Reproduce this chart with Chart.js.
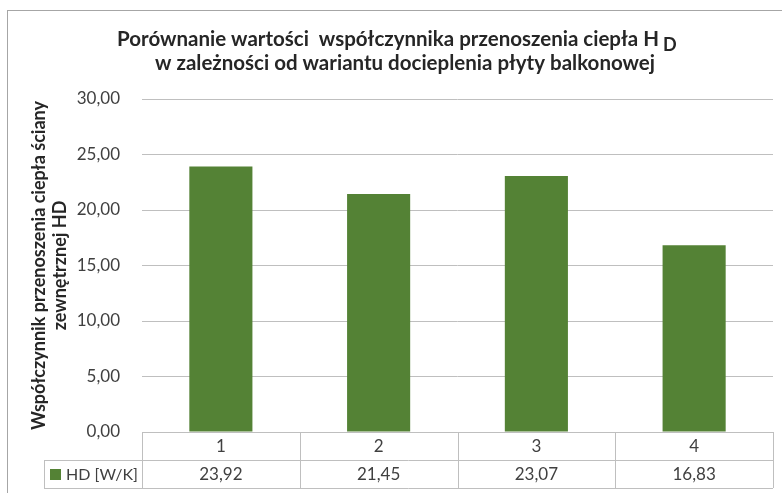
<!DOCTYPE html>
<html>
<head>
<meta charset="utf-8">
<script src="https://cdn.jsdelivr.net/npm/chart.js@4"></script>
<style>
	html, body { margin: 0; padding: 0; background: #fff; }
	#wrap { width: 782px; height: 493px; position: relative; }
</style>
</head>
<body>
<div id="wrap"><canvas id="hdChart" width="782" height="493"></canvas></div>
<script>
// Chart data
const categories = ['1', '2', '3', '4'];
const hdValues = [23.92, 21.45, 23.07, 16.83];
const seriesLabel = 'HD [W/K]';
const yTicks = [0, 5, 10, 15, 20, 25, 30];
const titleLines = ['Porównanie wartości  współczynnika przenoszenia ciepła H', 'w zależności od wariantu docieplenia płyty balkonowej'];
const titleSub = 'D';
const yTitleLines = ['Współczynnik przenoszenia ciepła ściany', 'zewnętrznej HD'];

const barColor = '#548235';
const lineColor = '#bfbfbf';
const textColor = '#404040';
const FONT = 'Lato, "Open Sans", sans-serif';

function fmt(v) {
	return v.toFixed(2).replace('.', ',');
}

// Outer frame and title
const framePlugin = {
	id: 'frame',
	beforeDraw(chart) {
		const ctx = chart.ctx;
		ctx.save();
		ctx.strokeStyle = '#a6a6a6';
		ctx.lineWidth = 1;
		ctx.strokeRect(7.5, 10.5, 900, 600);
		ctx.restore();
	},
	afterDraw(chart) {
		const ctx = chart.ctx;
		ctx.save();
		ctx.fillStyle = '#262626';
		ctx.textBaseline = 'alphabetic';
		ctx.textAlign = 'center';
		ctx.font = 'bold 20.5px ' + FONT;
		ctx.fillText(titleLines[0], 388, 46);
		const w = ctx.measureText(titleLines[0]).width;
		ctx.textAlign = 'left';
		ctx.font = 'bold 18px ' + FONT;
		ctx.fillText(titleSub, 388 + w / 2 + 4, 51);
		ctx.textAlign = 'center';
		ctx.font = 'bold 20.5px ' + FONT;
		ctx.fillText(titleLines[1], 405, 70);
		ctx.restore();
	}
};

// Data table under the plot (Excel style)
const tablePlugin = {
	id: 'dataTable',
	afterDraw(chart) {
		const ctx = chart.ctx;
		const area = chart.chartArea;
		const xs = chart.scales.x;
		const n = categories.length;
		const colW = (area.right - area.left) / n;
		const rowH = 28;
		const top = area.bottom;
		const legendLeft = 44;
		ctx.save();
		ctx.strokeStyle = lineColor;
		ctx.lineWidth = 1;
		ctx.beginPath();
		// horizontal lines
		ctx.moveTo(area.left, top + 0.5);
		ctx.lineTo(area.right, top + 0.5);
		ctx.moveTo(legendLeft, top + rowH + 0.5);
		ctx.lineTo(area.right, top + rowH + 0.5);
		ctx.moveTo(legendLeft, top + 2 * rowH + 0.5);
		ctx.lineTo(area.right, top + 2 * rowH + 0.5);
		// vertical lines
		for (let i = 0; i <= n; i++) {
			const x = Math.round(area.left + i * colW) + 0.5;
			ctx.moveTo(x, top);
			ctx.lineTo(x, top + 2 * rowH);
		}
		ctx.moveTo(legendLeft + 0.5, top + rowH);
		ctx.lineTo(legendLeft + 0.5, top + 2 * rowH);
		ctx.stroke();

		ctx.fillStyle = textColor;
		ctx.font = '17px ' + FONT;
		ctx.textAlign = 'center';
		ctx.textBaseline = 'middle';
		categories.forEach((c, i) => {
			const cx = xs.getPixelForValue(i);
			ctx.fillText(c, cx, top + rowH / 2 + 1);
			ctx.fillText(fmt(hdValues[i]), cx, top + rowH * 1.5 + 1);
		});
		// legend key
		ctx.fillStyle = barColor;
		ctx.fillRect(legendLeft + 6, top + rowH + 9, 11, 11);
		ctx.fillStyle = textColor;
		ctx.font = '16px ' + FONT;
		ctx.textAlign = 'left';
		ctx.fillText(seriesLabel, legendLeft + 22, top + rowH * 1.5 + 1);
		ctx.restore();
	}
};

const hdCtx = document.getElementById('hdChart');
hdCtx.chart = new Chart(hdCtx, {
	type: 'bar',
	data: {
		labels: categories,
		datasets: [{
			label: seriesLabel,
			data: hdValues,
			backgroundColor: barColor,
			categoryPercentage: 1,
			barPercentage: 0.4
		}]
	},
	options: {
		responsive: false,
		animation: false,
		layout: {
			padding: { top: 99, right: 9, bottom: 61, left: 0 }
		},
		plugins: {
			legend: { display: false },
			title: { display: false },
			tooltip: { enabled: false }
		},
		scales: {
			x: {
				display: false
			},
			y: {
				min: 0,
				max: 30,
				afterFit: function(scale) {
					scale.width = 142;
				},
				afterBuildTicks: function(scale) {
					scale.ticks = yTicks.map(v => ({ value: v }));
				},
				border: { display: false },
				grid: {
					color: lineColor,
					drawTicks: false
				},
				ticks: {
					padding: 22,
					color: textColor,
					font: { family: FONT, size: 17 },
					callback: function(v) { return fmt(v); }
				},
				title: {
					display: true,
					text: yTitleLines,
					color: '#262626',
					padding: { top: 29, bottom: 0 },
					font: { family: FONT, size: 18, weight: 'bold', lineHeight: 1.15 }
				}
			}
		}
	},
	plugins: [framePlugin, tablePlugin]
});
</script>
</body>
</html>
